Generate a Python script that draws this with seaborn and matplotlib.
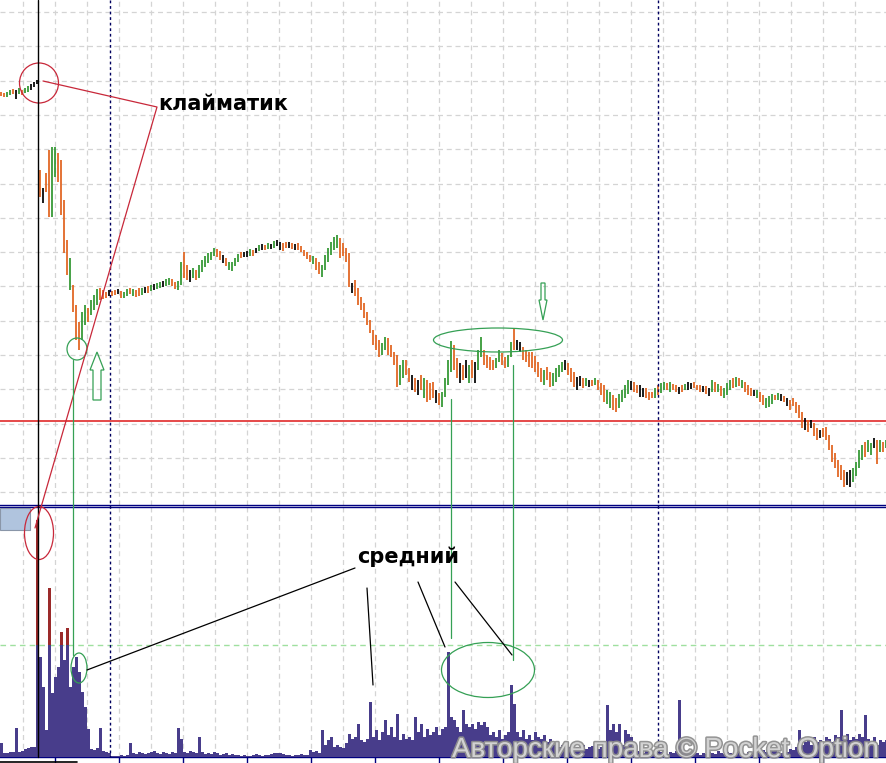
import numpy as np
import pandas as pd
import seaborn as sns
import matplotlib
matplotlib.use('Agg')
import matplotlib.pyplot as plt
import matplotlib.patheffects as pe
from matplotlib.lines import Line2D
from matplotlib.patches import Ellipse, Polygon, Rectangle

# bar highs / lows (price points), one entry per bar
high = [413, 412, 413, 415, 416, 415, 417, 415, 417, 419, 421, 423, 425,
        335, 317, 332, 355, 358, 358, 352, 345, 305, 265, 247, 220, 200, 183, 193, 200, 197, 205, 210, 216, 217, 215, 213, 215,
        214, 215, 216, 214, 213, 216, 217, 216, 215, 217, 217, 218, 219, 220, 221, 222, 223, 224, 226, 227, 226, 223, 224,
        243, 253, 240, 235, 237, 235, 240, 245, 249, 252, 253, 257, 256, 254, 250, 247, 243, 243, 247, 251,
        253, 253, 254, 256, 255, 257, 260, 261, 260, 262, 261, 264, 265, 263, 262, 263, 263, 262, 261, 262,
        259, 255, 253, 250, 249, 247, 243, 240, 250, 257, 263, 268, 270, 267, 262, 257, 252, 222, 225, 217, 208, 202, 193, 185,
        175, 170, 165, 162, 168, 167, 160, 153, 150, 140, 145, 145, 137, 130, 127, 125, 130, 127, 125, 122, 123, 115, 112, 113,
        127, 145, 164, 160, 147, 142, 140, 145, 140, 145, 143, 155, 168, 155, 150, 148, 145, 147, 155, 152, 148, 150, 163, 177,
        165, 163, 158, 155, 153, 153, 149, 143, 137, 135, 138, 133, 132, 137, 140, 143, 145, 142, 137, 133, 128, 129, 127, 127,
        125, 125, 127, 125,
        122, 120, 115, 113, 110, 107, 111, 115, 120, 125, 124, 123, 120, 120, 117, 117, 113, 113, 117, 120, 122, 123, 122, 123,
        121, 120, 118, 120, 121, 123, 122, 123, 120, 120, 119, 119, 117, 125, 123, 121, 119, 117, 122, 125, 127, 128, 127, 125,
        123, 120,
        117, 115, 115, 113, 110, 107, 109, 111, 110, 112, 111, 109, 107, 105, 107, 103, 100, 93, 87, 85, 85, 82, 77, 75,
        77, 78, 70, 60, 52, 45, 40, 35, 33, 35, 37, 43, 55, 60, 63, 65, 62, 67, 65, 65, 63, 65]
low = [409, 408, 408, 410, 411, 406, 411, 410, 412, 413, 415, 418, 421,
       308, 302, 313, 288, 288, 328, 323, 290, 252, 230, 215, 193, 165, 155, 165, 180, 183, 190, 195, 200, 205, 206, 207, 209,
       209, 210, 211, 207, 207, 209, 211, 209, 208, 209, 210, 212, 212, 214, 215, 216, 217, 218, 219, 220, 219, 216, 215,
       220, 227, 225, 223, 227, 225, 227, 233, 238, 242, 245, 249, 248, 245, 242, 239, 235, 234, 239, 243,
       247, 248, 248, 249, 249, 252, 254, 255, 255, 256, 256, 257, 259, 255, 254, 257, 257, 256, 255, 255,
       253, 249, 246, 243, 241, 235, 231, 228, 235, 243, 250, 255, 257, 247, 249, 243, 218, 212, 209, 200, 195, 187, 180, 172,
       160, 155, 148, 150, 155, 150, 148, 140, 118, 120, 127, 130, 123, 115, 113, 110, 115, 107, 103, 105, 107, 102, 100, 98,
       108, 120, 133, 135, 127, 122, 125, 127, 122, 127, 122, 135, 148, 140, 137, 135, 135, 137, 143, 140, 137, 138, 148, 155,
       155, 153, 145, 143, 138, 137, 133, 128, 123, 120, 125, 118, 119, 123, 128, 133, 135, 130, 123, 118, 115, 119, 117, 119,
       118, 119, 120, 115,
       110, 103, 101, 97, 95, 93, 97, 103, 107, 111, 115, 113, 112, 108, 108, 107, 105, 107, 107, 110, 112, 115, 115, 113,
       115, 113, 111, 113, 115, 115, 116, 117, 115, 113, 113, 111, 109, 113, 113, 113, 109, 107, 110, 115, 117, 118, 119, 117,
       113, 110,
       109, 109, 107, 103, 100, 97, 98, 101, 105, 105, 104, 103, 99, 95, 99, 92, 87, 77, 75, 73, 77, 69, 65, 67,
       68, 65, 55, 43, 37, 28, 25, 18, 20, 18, 23, 29, 37, 45, 48, 53, 50, 57, 41, 53, 53, 57]
# bar direction: G = up, O = down, K = unchanged
bar_dir = ("OOGGOKGOGGKKK"
           "OKOOGGOOOOGOOOGGOGGGOOOK"
           "OOKOGGOGOOGKOGKGGKGGOOG"
           "GOOKGOGGGGGGOOKOGGGGOKKGOKGKOGKGKKOOKOKO"
           "OOOOGOOGGGGGGOOOOKOOOOOOOOOGGOOOOGGOOKOKOGOOOKOG"
           "GGGOOKOKGOKGGOOOOGGOOGGOKKOOOOOOOGOOGGGGKOOOKKOGKOGO"
           "OOGGOOGGGGKOOKKOOOGOGGOGOOKOGKKOOOKOKGOGOGGGOGOGOO"
           "OKGOOGGGOGKOKOOOOOKOKOOKOOOOOOOOKKGGGGOGGKOGOG")
# tick volume per bar
volume = [14, 4, 4, 5, 5, 29, 5, 6, 8, 9, 10, 10, 237,
          100, 70, 27, 169, 64, 80, 90, 125, 97, 129, 70, 90, 100, 85, 65, 50, 28, 8, 7, 9, 29, 6, 5, 4,
          1, 1, 1, 2, 1, 2, 14, 4, 3, 5, 4, 3, 4, 5, 6, 4, 3, 5, 4, 3, 5, 4, 29,
          18, 5, 4, 6, 5, 4, 20, 5, 3, 4, 3, 5, 4, 2, 3, 4, 2, 3, 2, 2, 1, 2, 1, 1, 2, 3, 2, 1, 2, 2, 3, 4, 4, 4, 3, 2, 2, 1, 2, 2,
          3, 2, 2, 7, 5, 6, 4, 27, 12, 17, 20, 10, 12, 10, 9, 14, 23, 18, 20, 33, 17, 15, 18, 55,
          20, 27, 17, 25, 37, 22, 30, 20, 43, 17, 23, 18, 20, 17, 40, 25, 33, 20, 28, 22, 25, 30, 22, 28,
          30, 105, 40, 37, 30, 25, 47, 33, 30, 33, 28, 35, 32, 35, 30, 22, 25, 20, 27, 18, 22, 25, 72, 53,
          25, 20, 27, 18, 22, 17, 25, 20, 18, 22, 15, 18, 12, 10, 10, 12, 9, 10, 11, 8, 10, 9, 12, 8, 10, 11, 9, 8,
          10, 12, 52, 27, 33, 25, 33, 12, 27, 23, 20, 8, 6, 5, 4, 6, 5, 3, 4, 6, 5, 4, 3, 5,
          4, 6, 57, 8, 5, 4, 3, 5, 4, 2, 4, 3, 5, 4, 3, 6, 4, 3, 5, 4, 3, 5, 6, 4, 3, 5,
          4, 6, 5, 4, 7, 5, 4, 6, 8, 5, 4, 6, 5, 8, 7, 10, 27, 12, 15, 18, 12, 20, 15, 17,
          14, 20, 18, 15, 22, 20, 47, 18, 23, 17, 20, 18, 23, 20, 42, 18, 15, 20, 12, 17, 15, 17]
vol_level = 112
support_level = 84

W, H = 887, 763
sns.set_theme(style='white')
plt.rcParams['font.family'] = ['DejaVu Sans']

fig = plt.figure(figsize=(W / 100, H / 100), dpi=100)
fig.patch.set_facecolor('white')
ax = fig.add_axes([0, 1 - 504.5 / H, 1, 504.5 / H])
axv = fig.add_axes([0, 1 - 757 / H, 1, 250 / H])

idx = np.arange(len(high))
dir_colors = {'G': '#2f962f', 'O': '#e0621c', 'K': '#000000'}

# price bars
ax.vlines(idx, low, high, colors=[dir_colors[c] for c in bar_dir], lw=1.25, zorder=3)
ax.axhline(support_level, color='#e02a2a', lw=1.2, zorder=2)

# volume histogram: red part above level, blue up to level
df = pd.DataFrame({'bar': idx, 'vol': volume})
df['base'] = df['vol'].clip(upper=vol_level)
sns.barplot(data=df, x='bar', y='vol', native_scale=True, width=0.7, color='#9b2a2a',
            saturation=1, errorbar=None, linewidth=0, ax=axv, zorder=3)
sns.barplot(data=df, x='bar', y='base', native_scale=True, width=0.7, color='#483d8b',
            saturation=1, errorbar=None, linewidth=0, ax=axv, zorder=4)
axv.axhline(vol_level, color='#9fe09f', lw=1, ls=(0, (4, 3)), zorder=2)

x_lo, x_hi = -0.5, (W - 1.5) / 3
step = 32 / 3
for a in (ax, axv):
    a.set_xlim(x_lo, x_hi)
    a.set_xticks(np.arange((55 - 1.5) / 3, x_hi, 2 * step))
    a.set_xticks(np.arange((23 - 1.5) / 3, x_hi, 2 * step), minor=True)
    a.grid(which='both', axis='x', color='#d4d4d4', lw=0.9, ls=(0, (4, 3)))
    a.set_axisbelow(True)
    a.set_xlabel('')
    a.set_ylabel('')
    a.set_facecolor('white')
    for s in a.spines.values():
        s.set_visible(False)

ax.set_ylim(0.5, 505)
ax.set_yticks(505 - (12 + 34.3 * np.arange(15)))
ax.grid(axis='y', color='#d4d4d4', lw=0.9, ls=(0, (4, 3)))
ax.tick_params(which='both', length=0, labelbottom=False, labelleft=False)
ax.spines['bottom'].set_visible(True)
ax.spines['bottom'].set_color('#000080')
ax.spines['bottom'].set_linewidth(1.0)

axv.set_ylim(0, 250)
axv.set_yticks([])
axv.tick_params(axis='x', which='major', direction='out', length=5, width=1, color='#000080',
                labelbottom=False, bottom=True)
axv.tick_params(axis='x', which='minor', length=0)
for side in ('top', 'bottom'):
    axv.spines[side].set_visible(True)
    axv.spines[side].set_color('#000080')
    axv.spines[side].set_linewidth(1.0)


# annotations drawn in screen pixels (top-left origin)
def fpt(x, y):
    return x / W, 1 - y / H


def fline(pts, color, lw=0.9, ls='-'):
    xs, ys = zip(*[fpt(*p) for p in pts])
    fig.add_artist(Line2D(xs, ys, color=color, lw=lw, ls=ls))


def fellipse(cx, cy, w, h, color):
    fig.add_artist(Ellipse(fpt(cx, cy), w / W, h / H, fill=False, ec=color, lw=0.9))


def farrow(pts, color):
    fig.add_artist(Polygon([fpt(*p) for p in pts], closed=True, fill=False, ec=color, lw=0.9))


# period separators and crosshair
for sx in (110, 658):
    fline([(sx, 0), (sx, 757)], '#000060', lw=1.0, ls=(0, (2, 2)))
fline([(38, 0), (38, 757)], 'black', lw=1.0)
fline([(0, 761.5), (77, 761.5)], 'black', lw=1.2)
fig.add_artist(Rectangle(fpt(0, 530), 30 / W, 22 / H, fc='#b0c4de', ec='#8a96a8', lw=0.8))

red = '#c8283a'
green = '#35a055'
fellipse(39, 83, 39, 40, red)
fline([(43, 81), (157, 107), (35, 528)], red)
fellipse(39, 533, 29, 53, red)

fellipse(77, 349, 20, 22, green)
fline([(73, 360), (73, 655)], green)
fellipse(79, 668, 16, 30, green)
farrow([(97, 352), (104, 370), (101, 370), (101, 400), (93, 400), (93, 370), (90, 370)], green)
fellipse(498, 340, 129, 24, green)
farrow([(541, 283), (545, 283), (545, 300), (547, 300), (543, 320), (539, 300), (541, 300)], green)
fline([(451, 399), (451, 638)], green)
fline([(513, 365), (513, 660)], green)
fellipse(488, 670, 93, 55, green)

for p0, p1 in [((355, 568), (87, 670)), ((367, 588), (373, 685)),
               ((418, 582), (445, 647)), ((455, 582), (512, 655))]:
    fline([p0, p1], 'black', lw=0.9)

fig.text(158 / W, 1 - 110 / H, 'клайматик', fontsize=15, fontweight='bold',
         family='DejaVu Sans', va='baseline', color='black')
fig.text(357 / W, 1 - 563 / H, 'средний', fontsize=15, fontweight='bold',
         family='DejaVu Sans', va='baseline', color='black')

fig.text(452 / W, 1 - 757 / H, 'Авторские права © Pocket Option', fontsize=20,
         family=['Liberation Sans', 'DejaVu Sans'], va='baseline', color='#d6d6d6', alpha=0.95,
         path_effects=[pe.withStroke(linewidth=2.2, foreground='#8e8e8e')], zorder=10)

fig.savefig('out.png', dpi=100)
